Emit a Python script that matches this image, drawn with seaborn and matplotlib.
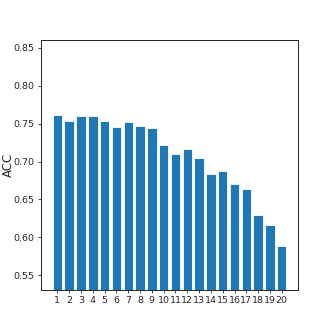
import matplotlib
matplotlib.use("Agg")
import matplotlib.pyplot as plt
import seaborn as sns
import pandas as pd

categories = [str(i) for i in range(1, 21)]
acc = [0.761, 0.754, 0.760, 0.760, 0.753, 0.746, 0.752, 0.747, 0.744, 0.722,
       0.710, 0.716, 0.705, 0.683, 0.687, 0.671, 0.664, 0.630, 0.617, 0.588]
yticks = [0.55, 0.60, 0.65, 0.70, 0.75, 0.80, 0.85]

df = pd.DataFrame({"k": categories, "ACC": acc})

sns.set_style("ticks")
plt.rcParams['font.family'] = ['DejaVu Sans']
fig = plt.figure(figsize=(3.32, 3.32), dpi=100)
ax = fig.add_axes([0.1235, 0.1265, 0.7745, 0.7535])
sns.barplot(data=df, x="k", y="ACC", color="#1f77b4", saturation=1,
            width=0.8, edgecolor="white", linewidth=0.6, ax=ax)
ax.set_xlim(-1.39, 20.39)
ax.set_ylim(0.5306, 0.8606)
ax.set_yticks(yticks)
ax.set_yticklabels([f"{t:.2f}" for t in yticks])
ax.set_xlabel("")
ax.set_ylabel("ACC", fontsize=8.5, va="center")
ax.yaxis.set_label_coords(-0.125, 0.5)
ax.tick_params(labelsize=6.8, width=0.6, length=2.5, pad=2)
for s in ax.spines.values():
    s.set_visible(True)
    s.set_linewidth(0.6)
    s.set_color("black")
fig.savefig("out.png", dpi=100)
